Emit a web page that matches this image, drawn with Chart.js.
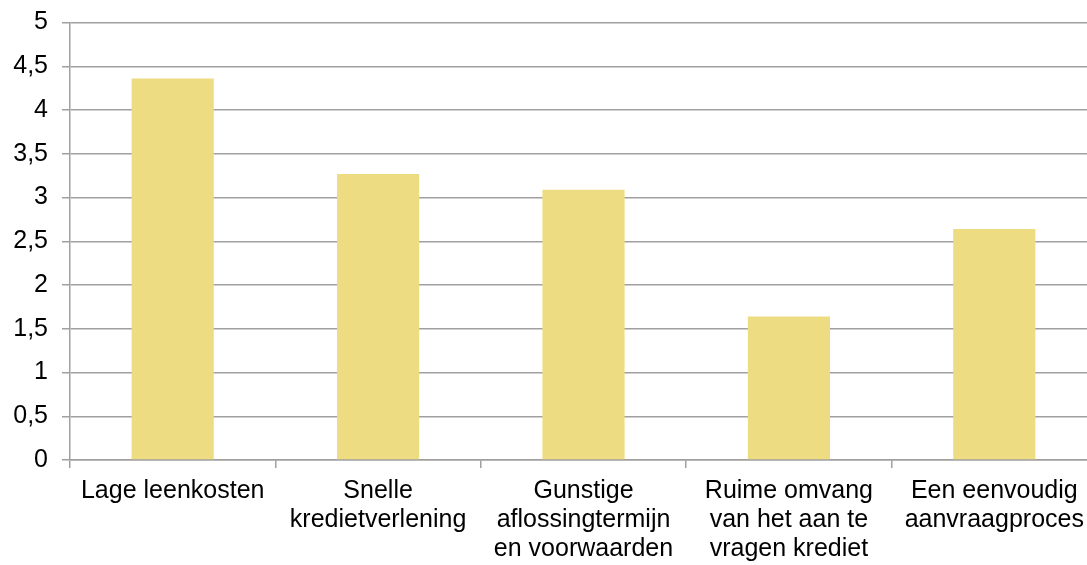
<!DOCTYPE html>
<html>
<head>
<meta charset="utf-8">
<script src="https://cdn.jsdelivr.net/npm/chart.js@4/dist/chart.umd.min.js"></script>
<style>
html,body{margin:0;padding:0;overflow:hidden;background:#fff}
#c{display:block;margin-top:-6px}
</style>
</head>
<body>
<canvas id="c" width="1100" height="571"></canvas>
<script>
const labels=[
["Lage leenkosten"],
["Snelle","kredietverlening"],
["Gunstige","aflossingtermijn","en voorwaarden"],
["Ruime omvang","van het aan te","vragen krediet"],
["Een eenvoudig","aanvraagproces"]
];
const values=[4.36,3.27,3.09,1.64,2.64];

const font={family:"'Liberation Sans', Arial, sans-serif",size:25,lineHeight:1.16};
new Chart(document.getElementById("c"),{
type:"bar",
data:{labels:labels,datasets:[{data:values,backgroundColor:"#eedc82",barPercentage:0.4,categoryPercentage:1}]},
options:{
responsive:false,animation:false,
layout:{padding:{top:4,right:3,left:0,bottom:0}},
plugins:{legend:{display:false},tooltip:{enabled:false}},
scales:{
y:{min:0,max:5,
ticks:{stepSize:0.5,color:"#000",font:font,padding:14,
callback:v=>String(v).replace(".",",")},
grid:{color:"#a0a0a0",lineWidth:1.5,tickLength:8},
border:{color:"#a0a0a0",width:1.5},
afterFit:s=>{s.width=70}},
x:{
ticks:{color:"#000",font:font,padding:9,maxRotation:0,autoSkip:false},
grid:{offset:true,drawOnChartArea:false,color:"#a0a0a0",lineWidth:1.5,tickLength:8},
border:{color:"#a0a0a0",width:1.5},
afterFit:s=>{s.height=105}}
}
}
});
</script>
</body>
</html>
